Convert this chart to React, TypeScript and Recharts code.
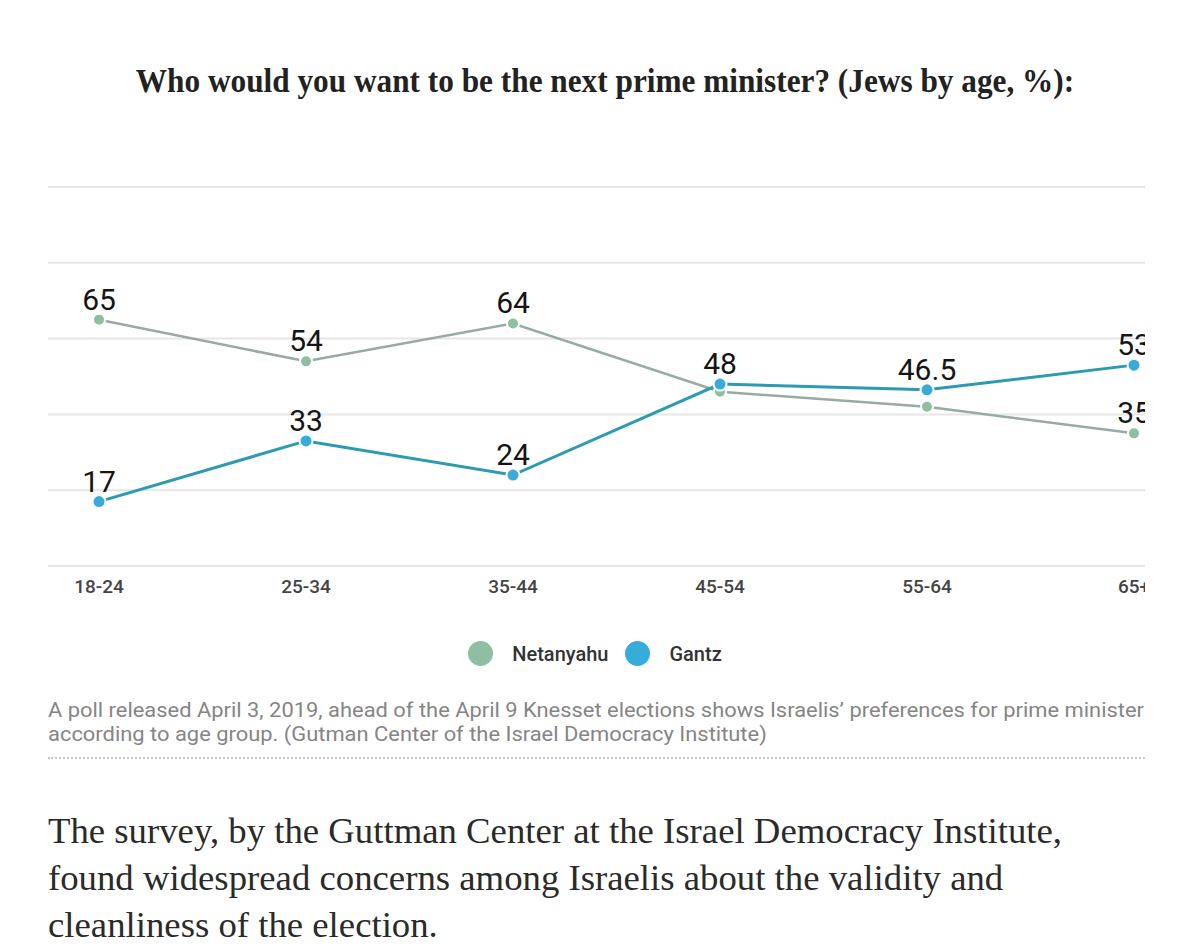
import React from "react";
import { LineChart, Line, XAxis, YAxis, CartesianGrid, LabelList } from "recharts";

const ageGroups = ["18-24", "25-34", "35-44", "45-54", "55-64", "65+"];
const netanyahu = [65, 54, 64, 46, 42, 35];
const gantz = [17, 33, 24, 48, 46.5, 53];
// which points carry a value label in the original
const netanyahuLabelShown = [true, true, true, false, false, true];
const gantzLabelShown = [true, true, true, true, true, true];
const yTicks = [0, 20, 40, 60, 80, 100];

const NET_DOT = "#8dbfa0";
const NET_LINE = "#98aaa2";
const GANTZ_DOT = "#37acd8";
const GANTZ_LINE = "#2c9ab3";

const chartData = ageGroups.map((age, i) => ({
  age,
  netanyahu: netanyahu[i],
  gantz: gantz[i],
}));

const makeLabel = (shown: boolean[]) => (props: any) => {
  const { x, y, value, index } = props;
  if (!shown[index]) return null;
  return (
    <text
      x={x}
      y={y - 10}
      textAnchor="middle"
      fontSize={30}
      fontFamily="Roboto, sans-serif"
      fill="#151515"
    >
      {value}
    </text>
  );
};

export default function App() {
  return (
    <div
      style={{
        position: "absolute",
        left: 0,
        top: 0,
        width: 1200,
        height: 948,
        background: "#fff",
        overflow: "hidden",
      }}
    >
      <div
        style={{
          position: "absolute",
          top: 62,
          left: 0,
          width: 1210,
          textAlign: "center",
          fontFamily: "'Liberation Serif', serif",
          fontWeight: 700,
          fontSize: 34,
          color: "#222",
          transform: "scaleX(0.92)",
          whiteSpace: "nowrap",
        }}
      >
        Who would you want to be the next prime minister? (Jews by age, %):
      </div>

      <div style={{ position: "absolute", left: 0, top: 0, width: 1145, height: 620, overflow: "hidden" }}>
        <LineChart
          width={1200}
          height={620}
          data={chartData}
          margin={{ top: 187, left: 48, right: 15, bottom: 14 }}
        >
          <CartesianGrid vertical={false} stroke="#e6e6e6" strokeWidth={2} />
          <XAxis
            dataKey="age"
            axisLine={false}
            tickLine={false}
            height={40}
            padding={{ left: 51, right: 51 }}
            tickMargin={8}
            tick={{ fill: "#444", fontSize: 19, fontFamily: "Roboto, sans-serif", fontWeight: 500 }}
          />
          <YAxis hide domain={[0, 100]} ticks={yTicks} />
          <Line
            dataKey="netanyahu"
            stroke={NET_LINE}
            strokeWidth={2.5}
            dot={{ r: 6, fill: NET_DOT, stroke: "#fff", strokeWidth: 2 }}
            isAnimationActive={false}
          >
            <LabelList dataKey="netanyahu" content={makeLabel(netanyahuLabelShown)} />
          </Line>
          <Line
            dataKey="gantz"
            stroke={GANTZ_LINE}
            strokeWidth={3}
            dot={{ r: 6.5, fill: GANTZ_DOT, stroke: "#fff", strokeWidth: 2 }}
            isAnimationActive={false}
          >
            <LabelList dataKey="gantz" content={makeLabel(gantzLabelShown)} />
          </Line>
        </LineChart>
      </div>

      <div
        style={{
          position: "absolute",
          top: 641,
          left: 0,
          width: 1190,
          display: "flex",
          justifyContent: "center",
          alignItems: "center",
          fontFamily: "Roboto, sans-serif",
          fontWeight: 500,
          fontSize: 20,
          color: "#333",
        }}
      >
        <span style={{ width: 25, height: 25, borderRadius: "50%", background: NET_DOT, display: "inline-block", marginRight: 19 }} />
        <span style={{ marginRight: 17 }}>Netanyahu</span>
        <span style={{ width: 25, height: 25, borderRadius: "50%", background: GANTZ_DOT, display: "inline-block", marginRight: 19 }} />
        <span>Gantz</span>
      </div>

      <div
        style={{
          position: "absolute",
          top: 698,
          left: 48,
          width: 1100,
          fontFamily: "Roboto, sans-serif",
          fontSize: 20,
          lineHeight: "24px",
          color: "#858585",
          transform: "scaleX(1.095)",
          transformOrigin: "left top",
          whiteSpace: "nowrap",
        }}
      >
        A poll released April 3, 2019, ahead of the April 9 Knesset elections shows Israelis’ preferences for prime minister
        <br />
        according to age group. (Gutman Center of the Israel Democracy Institute)
      </div>
      <div
        style={{
          position: "absolute",
          top: 757,
          left: 48,
          width: 1097,
          borderTop: "2px dotted #c8c8c8",
        }}
      />

      <div
        style={{
          position: "absolute",
          top: 808,
          left: 48,
          width: 1100,
          fontFamily: "'Liberation Serif', serif",
          fontSize: 35,
          lineHeight: "47px",
          color: "#2a2a2a",
          transform: "scaleX(1.05)",
          transformOrigin: "left top",
          whiteSpace: "nowrap",
        }}
      >
        The survey, by the Guttman Center at the Israel Democracy Institute,
        <br />
        found widespread concerns among Israelis about the validity and
        <br />
        cleanliness of the election.
      </div>
    </div>
  );
}
